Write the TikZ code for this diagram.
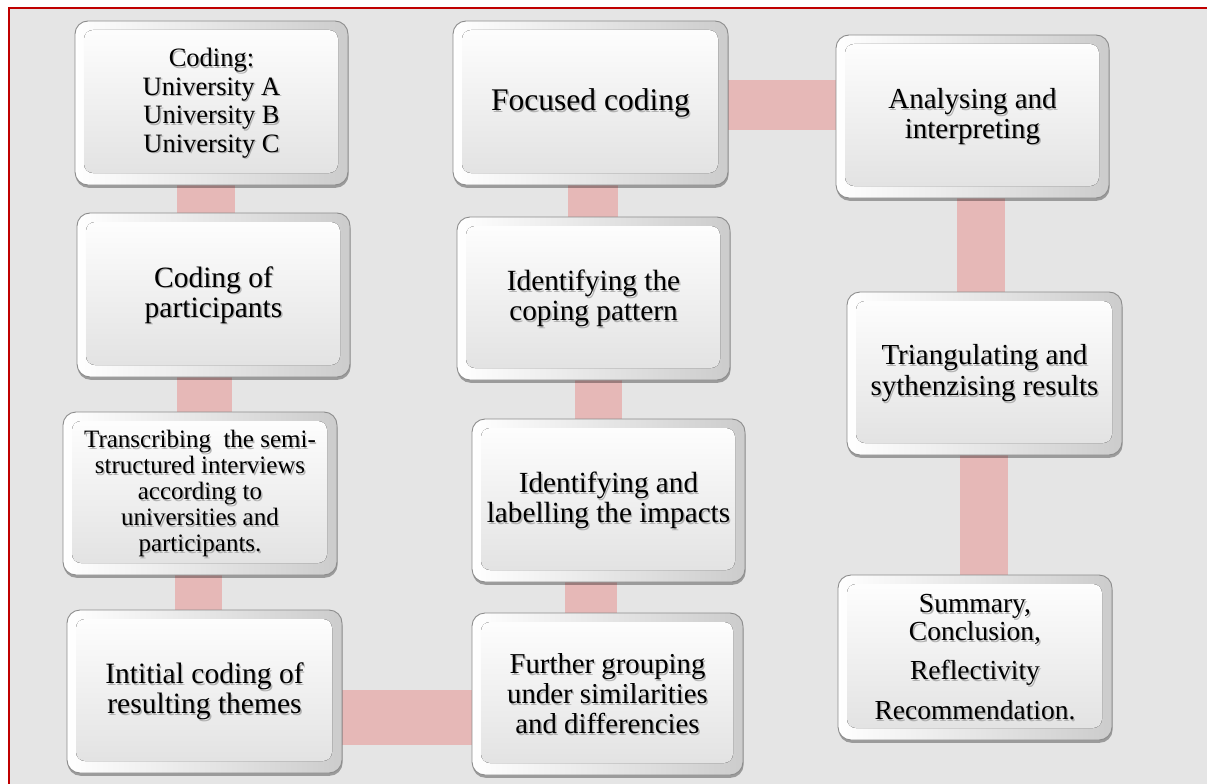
\documentclass[tikz,border=0pt]{standalone}
\usepackage{fontspec}
\setmainfont{Liberation Serif}
\usetikzlibrary{calc,shadows}

\definecolor{panelgray}{RGB}{229,229,229}
\definecolor{framered}{RGB}{192,0,0}
\definecolor{linkpink}{RGB}{230,184,183}
\definecolor{edgegray}{RGB}{140,140,140}

\pgfdeclarelayer{canvas}
\pgfdeclarelayer{links}
\pgfsetlayers{canvas,links,main}

\newcommand\boxfont[2]{\fontsize{#1}{#2}\selectfont}

\tikzset{
  stepbox/.style={
    rounded corners=13pt, draw=edgegray, line width=0.9pt,
    left color=white, right color=gray!40,
    inner sep=0pt,
    drop shadow={shadow xshift=0.6pt, shadow yshift=-2.8pt, opacity=0.32, fill=black},
    path picture={
      \fill[rounded corners=9pt, top color=white, bottom color=gray!24]
        ([shift={(9pt,12pt)}]path picture bounding box.south west) rectangle
        ([shift={(-10pt,-9pt)}]path picture bounding box.north east);
    }
  },
  steplabel/.style={align=center, inner sep=0pt, text=black},
  labelshadow/.style={steplabel, text=gray!80, opacity=0.7},
  link/.style={draw=linkpink, line width=#1, line cap=butt},
  link/.default=52pt
}

% name, x, y, width, height, font, text
\newcommand\stepnode[7]{%
  \node[stepbox, minimum width=#4pt, minimum height=#5pt] (#1) at (#2,#3) {};
  \node[labelshadow, font={#6}] (#1s) at ([shift={(1.4pt,-1.5pt)}]#1.center) {#7};
  \node[steplabel, font={#6}] (#1t) at (#1.center) {#7};
}
% vertical link: from, to, width, x offset from the midpoint
\newcommand\vlink[4]{%
  \coordinate (#1#2) at ($(#1.center)!0.5!(#2.center)+(#4,0)$);
  \draw[link=#3] (#1#2 |- #1.center) -- (#1#2 |- #2.center);
}
% horizontal link: from, to, width, y offset from the midpoint
\newcommand\hlink[4]{%
  \coordinate (#1#2) at ($(#1.center)!0.5!(#2.center)+(0,#4)$);
  \draw[link=#3] (#1#2 -| #1.center) -- (#1#2 -| #2.center);
}

\begin{document}
\begin{tikzpicture}[x=1pt, y=-1pt]
  \useasboundingbox (0,0) rectangle (1207,784);
  \clip (0,0) rectangle (1207,784);

  % panel with its red frame
  \begin{pgfonlayer}{canvas}
    \fill[white] (0,0) rectangle (1207,784);
    \fill[panelgray] (8,7) rectangle (1207,784);
    \draw[framered, line width=2pt] (1207,8) -- (9,8) -- (9,784);
  \end{pgfonlayer}

  % first column
  \stepnode{b1}{211.5}{103}{273}{164}{\boxfont{26.5}{28.5}}{Coding:\\University A\\University B\\University C}
  \stepnode{b2}{213.5}{295}{273}{164}{\boxfont{29.5}{30}}{Coding of\\participants}
  \stepnode{b3}{200}{493.5}{274}{163}{\boxfont{25}{26}}{Transcribing\ \ the semi-\\structured interviews\\according to\\universities and\\participants.}
  \stepnode{b4}{204.5}{691.5}{275}{163}{\boxfont{29.5}{30}}{Intitial coding of\\resulting themes}

  % second column
  \stepnode{b6}{590.5}{103}{275}{164}{\boxfont{31.5}{32}}{Focused coding}
  \stepnode{b8}{593.5}{298.5}{273}{163}{\boxfont{29.3}{30}}{Identifying the\\coping pattern}
  \stepnode{b9}{608.5}{500.5}{273}{163}{\boxfont{29.2}{30}}{Identifying and\\labelling the impacts}
  \stepnode{b5}{607.5}{694}{271}{162}{\boxfont{28.8}{30}}{Further grouping\\under similarities\\and differencies}

  % third column
  \stepnode{b7}{972.5}{116.5}{273}{163}{\boxfont{29}{29.5}}{Analysing and\\interpreting}
  \stepnode{b10}{984.5}{373.5}{275}{163}{\boxfont{29}{31}}{Triangulating and\\sythenzising results}
  \stepnode{b11}{975}{657.5}{274}{165}{\boxfont{27.5}{28}}{Summary,\\Conclusion,\\[11pt]Reflectivity\\[12pt]Recommendation.}

  % connecting bars
  \begin{pgfonlayer}{links}
    \vlink{b1}{b2}{58pt}{-6.5}
    \vlink{b2}{b3}{55pt}{-2}
    \vlink{b3}{b4}{47pt}{-3.5}
    \hlink{b4}{b5}{55pt}{24.75}
    \vlink{b9}{b5}{52pt}{-17}
    \vlink{b8}{b9}{47pt}{-2.5}
    \vlink{b6}{b8}{50pt}{1}
    \hlink{b6}{b7}{50pt}{-4.75}
    \vlink{b7}{b10}{48pt}{2.5}
    \vlink{b10}{b11}{48pt}{4}
  \end{pgfonlayer}
\end{tikzpicture}
\end{document}
